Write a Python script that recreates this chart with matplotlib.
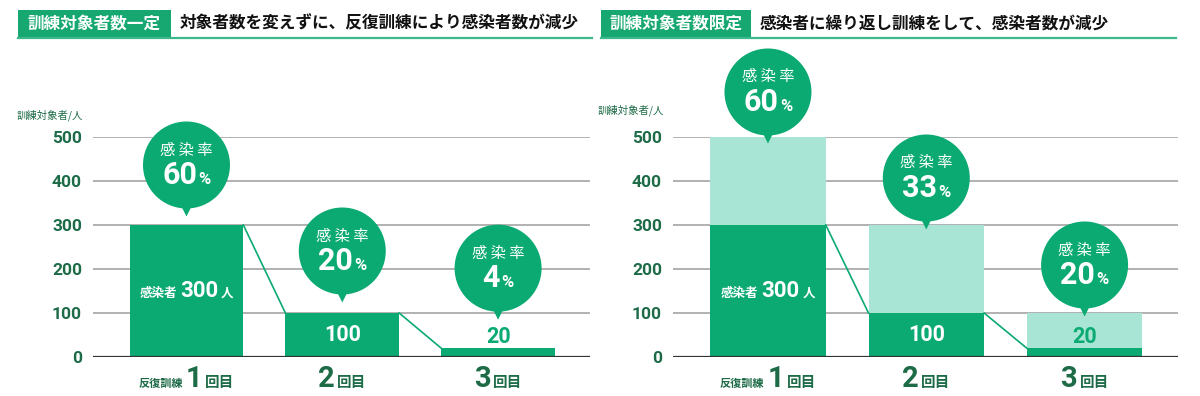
import matplotlib
matplotlib.use("Agg")
import matplotlib.pyplot as plt
import matplotlib.transforms as mtransforms
from matplotlib.patches import Circle, Polygon, Rectangle
from matplotlib.lines import Line2D
from matplotlib.offsetbox import TextArea, HPacker, AnnotationBbox

plt.rcParams['font.family'] = ['Noto Sans CJK JP', 'DejaVu Sans']

# data
rounds = [0, 1, 2]
round_prefix = ['反復訓練', '', '']
round_num = ['1', '2', '3']
round_suffix = '回目'
yticks = [0, 100, 200, 300, 400, 500]
ylabel = '訓練対象者/人'

left_tag = '訓練対象者数一定'
left_title = '対象者数を変えずに、反復訓練により感染者数が減少'
left_trained = [300, 100, 20]
left_infected = [300, 100, 20]
left_rate = [60, 20, 4]

right_tag = '訓練対象者数限定'
right_title = '感染者に繰り返し訓練をして、感染者数が減少'
right_trained = [500, 300, 100]
right_infected = [300, 100, 20]
right_rate = [60, 33, 20]

# style
DARK = '#0AAA72'
LIGHT = '#A9E5D4'
TEXT_GREEN = '#1D6B47'
GRID = '#ABABAB'
NUM_FONT = ['Roboto', 'Noto Sans CJK JP']
BAR_W = 0.73

W, H = 1200, 396
fig = plt.figure(figsize=(12, 3.96), dpi=100)


def fx(px):
    return px / W


def fy(py):
    return 1 - py / H


def rich(parts, sep=1):
    kids = []
    for text, size, color, family in parts:
        kids.append(TextArea(text, textprops=dict(fontsize=size, color=color,
                                                  fontweight='bold', family=family)))
    return HPacker(children=kids, align='baseline', pad=0, sep=sep)


def header(x0, x1, box_w, tag, title):
    fig.add_artist(Rectangle((fx(x0), fy(37)), fx(box_w), fy(10) - fy(37),
                             transform=fig.transFigure, color='#16A870', lw=0))
    fig.add_artist(Line2D([fx(x0), fx(x1)], [fy(37.5), fy(37.5)],
                          transform=fig.transFigure, color='#3DB88A', lw=1.6))
    fig.text(fx(x0 + box_w / 2), fy(23.5), tag, color='white', fontsize=12,
             fontweight='bold', ha='center', va='center')
    fig.text(fx(x0 + box_w + 9), fy(23.5), title, color='#111111', fontsize=12,
             fontweight='bold', ha='left', va='center')


def anchor(ax, x, y):
    # pixel offsets relative to a data point
    return mtransforms.Affine2D() + mtransforms.ScaledTranslation(x, y, ax.transData)


def bubble(ax, x, y, rate, dy):
    tr = anchor(ax, x, y)
    r = 43.5
    ax.add_patch(Polygon([(-6, dy - r + 4), (6, dy - r + 4), (0, dy - r - 8)],
                         closed=True, transform=tr, color=DARK, lw=0,
                         clip_on=False, zorder=5))
    ax.add_patch(Circle((0, dy), r, transform=tr, color=DARK, lw=0,
                        clip_on=False, zorder=5))
    ax.text(0, dy + 15, '感 染 率', transform=tr, ha='center', va='center',
            color='white', fontsize=11, zorder=6)
    box = rich([(str(rate), 22, 'white', NUM_FONT), ('%', 12, 'white', NUM_FONT)], sep=1)
    ax.add_artist(AnnotationBbox(box, (0, dy - 10), xycoords=tr, frameon=False,
                                 box_alignment=(0.5, 0.5), pad=0,
                                 annotation_clip=False, zorder=6))


def panel(rect, trained, infected, rate, bubble_dy, ylabel_xy):
    ax = fig.add_axes(rect)
    ax.bar(rounds, trained, width=BAR_W, color=LIGHT, zorder=2)
    ax.bar(rounds, infected, width=BAR_W, color=DARK, zorder=3)
    for i in range(len(rounds) - 1):
        ax.plot([rounds[i] + BAR_W / 2, rounds[i + 1] - BAR_W / 2],
                [infected[i], infected[i + 1]], color=DARK, lw=1.2, zorder=3)
    ax.set_ylim(0, 500)
    ax.set_xlim(rounds[0] - 0.6, rounds[-1] + 0.59)
    ax.set_yticks(yticks)
    ax.set_yticklabels([str(t) for t in yticks], fontsize=12.5, fontweight='bold',
                       color=TEXT_GREEN, family=NUM_FONT)
    ax.tick_params(axis='y', length=0, pad=8)
    ax.set_xticks([])
    ax.grid(axis='y', color=GRID, lw=1.3, zorder=0)
    ax.set_axisbelow(True)
    for s in ax.spines.values():
        s.set_visible(False)
    ax.axhline(0, color='#333333', lw=1.6, zorder=4)

    # labels in / on the bars
    b0 = rich([('感染者', 9, 'white', None), ('300', 16, 'white', NUM_FONT),
               ('人', 9, 'white', None)], sep=2)
    ax.add_artist(AnnotationBbox(b0, (rounds[0], infected[0] / 2), frameon=False,
                                 pad=0, box_alignment=(0.5, 0.5), zorder=6))
    ax.text(rounds[1], infected[1] / 2, str(infected[1]), ha='center', va='center',
            color='white', fontsize=15.5, fontweight='bold', family=NUM_FONT, zorder=6)
    ax.text(0, 11, str(infected[2]), ha='center', va='center',
            transform=anchor(ax, rounds[2], infected[2]),
            color=DARK, fontsize=15.5, fontweight='bold', family=NUM_FONT, zorder=6)

    # bubbles above the bars
    for i, x in enumerate(rounds):
        bubble(ax, x, trained[i], rate[i], bubble_dy[i])

    # round labels
    for i, x in enumerate(rounds):
        parts = []
        if round_prefix[i]:
            parts.append((round_prefix[i], 8, TEXT_GREEN, None))
        parts.append((round_num[i], 21, TEXT_GREEN, NUM_FONT))
        parts.append((round_suffix, 10.5, TEXT_GREEN, None))
        box = rich(parts, sep=2)
        ax.add_artist(AnnotationBbox(box, (x, 0), xybox=(0, -16), boxcoords='offset points',
                                     frameon=False, pad=0, box_alignment=(0.5, 0.5),
                                     annotation_clip=False))

    fig.text(fx(ylabel_xy[0]), fy(ylabel_xy[1]), ylabel, fontsize=7.5,
             color=TEXT_GREEN, ha='left', va='center')
    return ax


header(18, 592, 153, left_tag, left_title)
header(601, 1176, 150, right_tag, right_title)

panel([fx(93), fy(357), fx(497), fy(137) - fy(357)],
      left_trained, left_infected, left_rate, [60, 62, 80], (17, 115))
panel([fx(673), fy(357), fx(505), fy(137) - fy(357)],
      right_trained, right_infected, right_rate, [45, 47, 48], (598, 110))

fig.savefig('out.png', dpi=100)
